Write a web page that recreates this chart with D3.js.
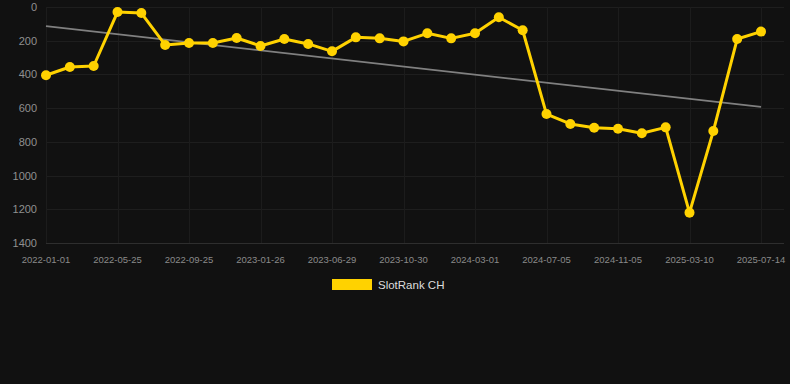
<!DOCTYPE html>
<html>
<head>
<meta charset="utf-8">
<script src="https://cdn.jsdelivr.net/npm/d3@7"></script>
<style>
  html, body { margin: 0; padding: 0; background: #111111; }
  svg { display: block; font-family: "Liberation Sans", Arial, sans-serif; }
</style>
</head>
<body>
<svg id="chart" width="790" height="384"></svg>
<script>
// dates shown on the x axis (every third point is labelled)
var dates = [
  "2022-01-01", "", "", "2022-05-25", "", "", "2022-09-25", "", "", "2023-01-26", "", "",
  "2023-06-29", "", "", "2023-10-30", "", "", "2024-03-01", "", "", "2024-07-05", "", "",
  "2024-11-05", "", "", "2025-03-10", "", "", "2025-07-14"
]
var ranks = [
  405, 356, 350, 30, 36, 225, 214, 214, 184, 231, 190, 219,
  263, 180, 186, 204, 156, 186, 156, 61, 138, 635, 694, 716,
  722, 749, 714, 1220, 736, 190, 146
]
// trend line end points (first and last index)
var trend = [113, 593]
var yTicks = [0, 200, 400, 600, 800, 1000, 1200, 1400]
var seriesName = "SlotRank CH"

var gold = "#ffd200"

// plot area (note: "top" is a reserved window name, so use plot_*)
var plot_left = 46, plot_right = 761, plot_top = 7, plot_bottom = 243

var svg = d3.select('#chart')

var idx = d3.range(ranks.length)

var x = d3.scalePoint()
    .domain(idx)
    .range([plot_left, plot_right])

var y = d3.scaleLinear()
    .domain([0, 1400])
    .range([plot_top, plot_bottom])

// horizontal grid
svg.append('g')
    .selectAll('line')
    .data(yTicks)
    .join('line')
    .attr('x1', plot_left)
    .attr('x2', plot_right + 23)
    .attr('y1', function(d) { return Math.round(y(d)) + 0.5 })
    .attr('y2', function(d) { return Math.round(y(d)) + 0.5 })
    .style('stroke', function(d) { return d === 1400 ? '#2e2e2e' : '#1e1e1e' })

// vertical grid at labelled dates
var labelled = idx.filter(function(i) { return dates[i] !== "" })

svg.append('g')
    .selectAll('line')
    .data(labelled)
    .join('line')
    .attr('x1', function(i) { return Math.round(x(i)) + 0.5 })
    .attr('x2', function(i) { return Math.round(x(i)) + 0.5 })
    .attr('y1', plot_top)
    .attr('y2', plot_bottom)
    .style('stroke', '#1c1c1c')

// y labels
svg.append('g')
    .selectAll('text')
    .data(yTicks)
    .join('text')
    .attr('x', 37)
    .attr('y', function(d) { return y(d) + 4 })
    .attr('text-anchor', 'end')
    .style('font-size', '11px')
    .style('fill', '#909090')
    .text(function(d) { return d })

// x labels
svg.append('g')
    .selectAll('text')
    .data(labelled)
    .join('text')
    .attr('x', function(i) { return x(i) })
    .attr('y', 263)
    .attr('text-anchor', 'middle')
    .style('font-size', '9.5px')
    .style('fill', '#8a8a8a')
    .text(function(i) { return dates[i] })

// trend line
svg.append('line')
    .attr('x1', x(0))
    .attr('y1', y(trend[0]))
    .attr('x2', x(ranks.length - 1))
    .attr('y2', y(trend[1]))
    .style('stroke', '#808080')
    .style('stroke-width', 1.8)

// series line
var line = d3.line()
    .x(function(d, i) { return x(i) })
    .y(function(d) { return y(d) })

svg.append('path')
    .datum(ranks)
    .attr('d', line)
    .style('fill', 'none')
    .style('stroke', gold)
    .style('stroke-width', 3)
    .style('stroke-linejoin', 'round')

svg.append('g')
    .selectAll('circle')
    .data(ranks)
    .join('circle')
    .attr('cx', function(d, i) { return x(i) })
    .attr('cy', function(d) { return y(d) })
    .attr('r', 5)
    .attr('fill', gold)

// legend
svg.append('rect')
    .attr('x', 332)
    .attr('y', 279)
    .attr('width', 40)
    .attr('height', 11)
    .attr('fill', gold)

svg.append('text')
    .attr('x', 378)
    .attr('y', 289)
    .style('font-size', '11.5px')
    .style('fill', '#dddddd')
    .text(seriesName)
</script>
</body>
</html>
